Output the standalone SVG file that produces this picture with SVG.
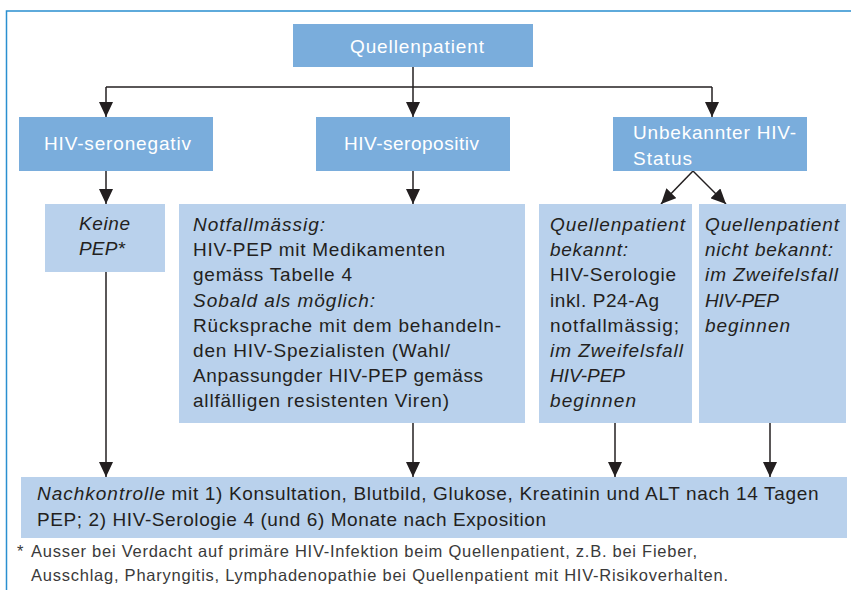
<svg xmlns="http://www.w3.org/2000/svg" width="851" height="590" viewBox="0 0 851 590">
<style>
text{font-family:"Liberation Sans",Arial,sans-serif;font-size:19px;fill:#231f20}
.w{fill:#ffffff}
.i{font-style:italic}
.fn{font-size:16.5px;fill:#3a3a3a}
.dk{fill:#7aaddc}
.lt{fill:#b9d1ec}
.c{fill:none;stroke:#231f20;stroke-width:1.5}
</style>
<defs>
<marker id="ah" viewBox="0 0 15 14" refX="15" refY="7" markerWidth="15" markerHeight="14" markerUnits="userSpaceOnUse" orient="auto">
<path d="M0,0 L15,7 L0,14 z" fill="#231f20"/>
</marker>
</defs>
<rect x="0" y="0" width="851" height="590" fill="#ffffff"/>
<path d="M6.5,600 L6.5,11 L860,11" fill="none" stroke="#2a8fd0" stroke-width="1.5"/>

<g id="connectors">
<path class="c" d="M106,87 L712,87"/>
<path class="c" d="M413,67 L413,117" marker-end="url(#ah)"/>
<path class="c" d="M106,87 L106,117" marker-end="url(#ah)"/>
<path class="c" d="M712,87 L712,117" marker-end="url(#ah)"/>
<path class="c" d="M106,171 L106,204" marker-end="url(#ah)"/>
<path class="c" d="M413,171 L413,204" marker-end="url(#ah)"/>
<path class="c" d="M693,171 L661,204" marker-end="url(#ah)"/>
<path class="c" d="M693,171 L726,204" marker-end="url(#ah)"/>
<path class="c" d="M106,272 L106,477" marker-end="url(#ah)"/>
<path class="c" d="M413,423 L413,477" marker-end="url(#ah)"/>
<path class="c" d="M615,423 L615,477" marker-end="url(#ah)"/>
<path class="c" d="M770,423 L770,477" marker-end="url(#ah)"/>
</g>

<g id="quellenpatient">
<rect class="dk" x="293" y="24" width="240" height="43"/>
<text class="w" x="350" y="52.5" textLength="134" lengthAdjust="spacing">Quellenpatient</text>
</g>

<g id="seronegativ">
<rect class="dk" x="19" y="117" width="194" height="54"/>
<text class="w" x="44" y="150" textLength="147" lengthAdjust="spacing">HIV-seronegativ</text>
</g>

<g id="seropositiv">
<rect class="dk" x="316" y="117" width="194" height="54"/>
<text class="w" x="344" y="150" textLength="135" lengthAdjust="spacing">HIV-seropositiv</text>
</g>

<g id="unbekannt">
<rect class="dk" x="613" y="117" width="194" height="54"/>
<text class="w" x="633" y="139" textLength="163" lengthAdjust="spacing">Unbekannter HIV-</text>
<text class="w" x="633" y="164.5" textLength="59" lengthAdjust="spacing">Status</text>
</g>

<g id="keine-pep">
<rect class="lt" x="45" y="204" width="120" height="68"/>
<text class="i" x="79" y="230" textLength="51" lengthAdjust="spacing">Keine</text>
<text class="i" x="79" y="255" textLength="46" lengthAdjust="spacing">PEP*</text>
</g>

<g id="notfall">
<rect class="lt" x="179" y="204" width="346" height="219"/>
<text class="i" x="193" y="231" textLength="132" lengthAdjust="spacing">Notfallmässig:</text>
<text x="193" y="256.2" textLength="252" lengthAdjust="spacing">HIV-PEP mit Medikamenten</text>
<text x="193" y="281.4" textLength="159" lengthAdjust="spacing">gemäss Tabelle 4</text>
<text class="i" x="193" y="306.6" textLength="182" lengthAdjust="spacing">Sobald als möglich:</text>
<text x="193" y="331.8" textLength="308" lengthAdjust="spacing">Rücksprache mit dem behandeln-</text>
<text x="193" y="357" textLength="257" lengthAdjust="spacing">den HIV-Spezialisten (Wahl/</text>
<text x="193" y="382.2" textLength="290" lengthAdjust="spacing">Anpassungder HIV-PEP gemäss</text>
<text x="193" y="407.4" textLength="256" lengthAdjust="spacing">allfälligen resistenten Viren)</text>
</g>

<g id="bekannt">
<rect class="lt" x="539" y="204" width="153" height="219"/>
<text class="i" x="550" y="231" textLength="135" lengthAdjust="spacing">Quellenpatient</text>
<text class="i" x="550" y="256.2" textLength="78" lengthAdjust="spacing">bekannt:</text>
<text x="550" y="281.4" textLength="126" lengthAdjust="spacing">HIV-Serologie</text>
<text x="550" y="306.6" textLength="109" lengthAdjust="spacing">inkl. P24-Ag</text>
<text x="550" y="331.8" textLength="129" lengthAdjust="spacing">notfallmässig;</text>
<text class="i" x="550" y="357" textLength="133" lengthAdjust="spacing">im Zweifelsfall</text>
<text class="i" x="550" y="382.2" textLength="75" lengthAdjust="spacing">HIV-PEP</text>
<text class="i" x="550" y="407.4" textLength="86" lengthAdjust="spacing">beginnen</text>
</g>

<g id="nicht-bekannt">
<rect class="lt" x="699" y="204" width="147" height="219"/>
<text class="i" x="705" y="231" textLength="134" lengthAdjust="spacing">Quellenpatient</text>
<text class="i" x="705" y="256.2" textLength="128" lengthAdjust="spacing">nicht bekannt:</text>
<text class="i" x="705" y="281.4" textLength="133" lengthAdjust="spacing">im Zweifelsfall</text>
<text class="i" x="705" y="306.6" textLength="74" lengthAdjust="spacing">HIV-PEP</text>
<text class="i" x="705" y="331.8" textLength="85" lengthAdjust="spacing">beginnen</text>
</g>

<g id="nachkontrolle">
<rect class="lt" x="21" y="477" width="826" height="61"/>
<text class="i" x="37" y="500" textLength="128" lengthAdjust="spacing">Nachkontrolle</text>
<text x="171.5" y="500" textLength="647" lengthAdjust="spacing">mit 1) Konsultation, Blutbild, Glukose, Kreatinin und ALT nach 14 Tagen</text>
<text x="37" y="526" textLength="509" lengthAdjust="spacing">PEP; 2) HIV-Serologie 4 (und 6) Monate nach Exposition</text>
</g>

<g id="footnote">
<text class="fn" x="17" y="557">*</text>
<text class="fn" x="31" y="557" textLength="666" lengthAdjust="spacing">Ausser bei Verdacht auf primäre HIV-Infektion beim Quellenpatient, z.B. bei Fieber,</text>
<text class="fn" x="31" y="581" textLength="697" lengthAdjust="spacing">Ausschlag, Pharyngitis, Lymphadenopathie bei Quellenpatient mit HIV-Risikoverhalten.</text>
</g>
</svg>
